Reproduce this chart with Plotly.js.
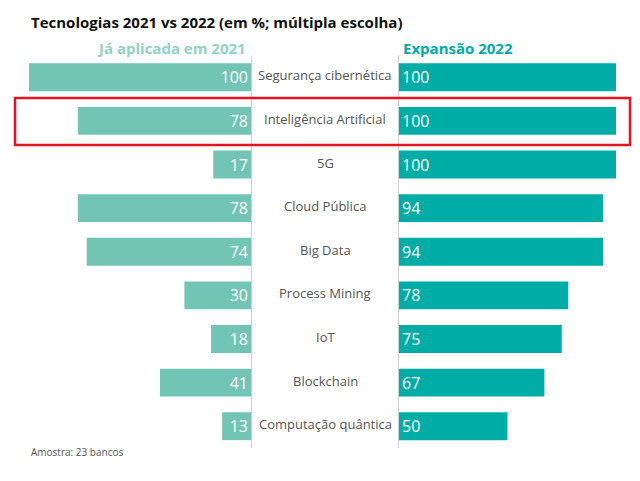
<!DOCTYPE html>
<html>
<head>
<meta charset="utf-8">
<script src="https://cdn.plot.ly/plotly-3.0.1.min.js"></script>
<style>html,body{margin:0;padding:0;background:#fff;}#chart{width:640px;height:481px;}</style>
</head>
<body>
<div id="chart"></div>
<script>
const categories = ["Segurança cibernética","Inteligência Artificial","5G","Cloud Pública","Big Data","Process Mining","IoT","Blockchain","Computação quântica"];
const applied2021 = [100,78,17,78,74,30,18,41,13];
const expansion2022 = [100,100,100,94,94,78,75,67,50];

const FONT = "Open Sans, Noto Sans, sans-serif";
const lightTeal = "#72c4b5";
const teal = "#00aca6";

const traces = [
  {type:"bar", orientation:"h", y:categories, x:applied2021, xaxis:"x", yaxis:"y",
   marker:{color:lightTeal}, width:0.64,
   text:applied2021.map(String), textposition:"inside", insidetextanchor:"start", textangle:0,
   constraintext:"none",
   textfont:{color:"#fff", size:16, family:FONT}, cliponaxis:false, hoverinfo:"skip"},
  {type:"bar", orientation:"h", y:categories, x:expansion2022, xaxis:"x2", yaxis:"y2",
   marker:{color:teal}, width:0.64,
   text:expansion2022.map(String), textposition:"inside", insidetextanchor:"start", textangle:0,
   constraintext:"none",
   textfont:{color:"#fff", size:16, family:FONT}, cliponaxis:false, hoverinfo:"skip"}
];

const yDom = [1-448/481, 1-55.5/481];
const yaxisBase = {type:"category", categoryorder:"array", categoryarray:categories,
  autorange:false, range:[categories.length-0.5,-0.5], domain:yDom,
  showticklabels:false, showgrid:false, zeroline:false, showline:false, fixedrange:true};

const annotations = categories.map(c => ({
  xref:"paper", yref:"y", x:0.508, y:c, text:c, showarrow:false,
  xanchor:"center", yanchor:"middle", yshift:2,
  font:{family:FONT, size:13, color:"#555"}
}));
annotations.push(
  {xref:"paper", yref:"paper", x:29/640, y:1-22/481, text:"<b>Tecnologias 2021 vs 2022 (em %; múltipla escolha)</b>",
   showarrow:false, xanchor:"left", yanchor:"middle", font:{family:FONT, size:15, color:"#111"}},
  {xref:"paper", yref:"paper", x:248/640, y:1-48/481, text:"<b>Já aplicada em 2021</b>",
   showarrow:false, xanchor:"right", yanchor:"middle", font:{family:FONT, size:15, color:"#8fd3c6"}},
  {xref:"paper", yref:"paper", x:401/640, y:1-48/481, text:"<b>Expansão 2022</b>",
   showarrow:false, xanchor:"left", yanchor:"middle", font:{family:FONT, size:15, color:teal}},
  {xref:"paper", yref:"paper", x:29/640, y:1-452/481, text:"Amostra: 23 bancos",
   showarrow:false, xanchor:"left", yanchor:"middle", font:{family:FONT, size:10, color:"#555"}}
);

const layout = {
  width:640, height:481, margin:{l:0,r:0,t:0,b:0},
  paper_bgcolor:"#fff", plot_bgcolor:"rgba(0,0,0,0)", showlegend:false,
  font:{family:FONT},
  xaxis:{domain:[29/640, 251/640], range:[100,0], autorange:false, visible:false, fixedrange:true},
  xaxis2:{domain:[399/640, 616/640], range:[0,100], autorange:false, visible:false, fixedrange:true},
  yaxis:Object.assign({anchor:"x"}, yaxisBase),
  yaxis2:Object.assign({anchor:"x2"}, yaxisBase),
  annotations:annotations,
  shapes:[
    {type:"line", xref:"paper", yref:"paper", x0:251.5/640, x1:251.5/640, y0:yDom[0], y1:yDom[1],
     line:{color:"#cfcfcf", width:1}, layer:"below"},
    {type:"line", xref:"paper", yref:"paper", x0:398.5/640, x1:398.5/640, y0:yDom[0], y1:yDom[1],
     line:{color:"#cfcfcf", width:1}, layer:"below"},
    {type:"rect", xref:"paper", yref:"paper", x0:15/640, x1:630/640, y0:1-145/481, y1:1-98/481,
     line:{color:"#e3151f", width:2.5}, fillcolor:"rgba(0,0,0,0)", layer:"above"}
  ]
};

Plotly.newPlot("chart", traces, layout, {displayModeBar:false, staticPlot:true});
</script>
</body>
</html>
